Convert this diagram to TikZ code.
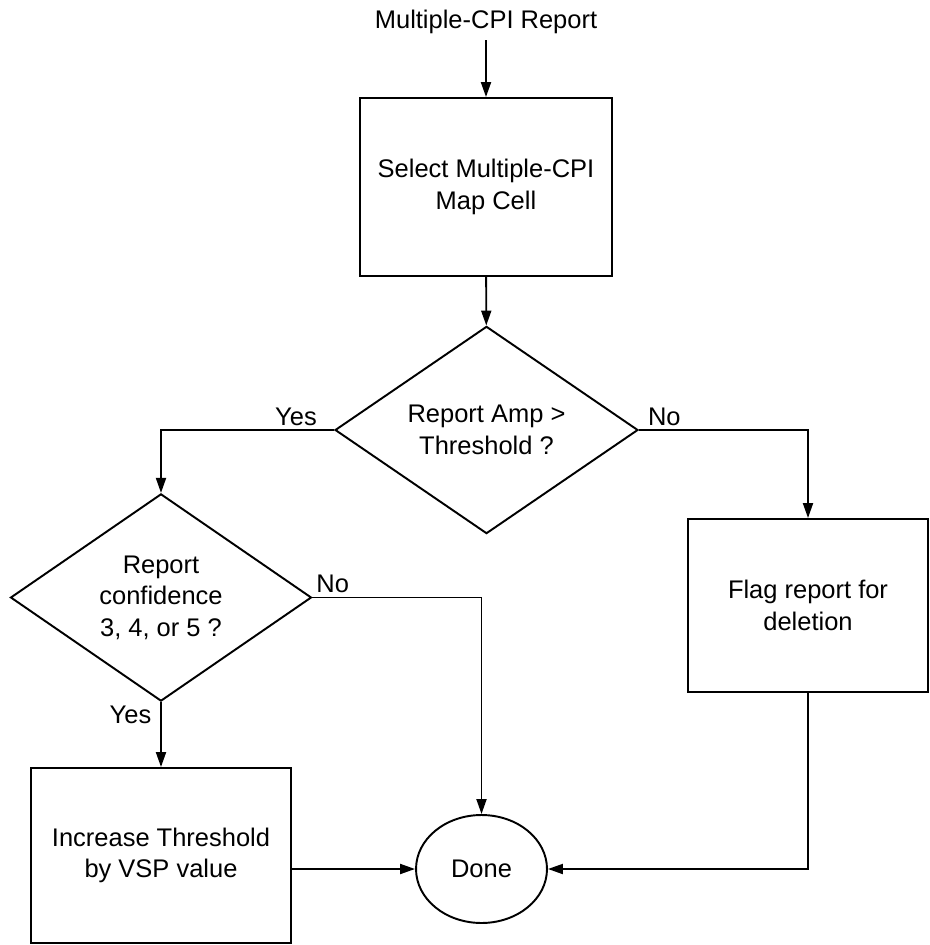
\documentclass[tikz,border=0pt]{standalone}
\usepackage{fontspec}
\setmainfont{Liberation Sans}
\usetikzlibrary{positioning,arrows.meta,shapes.geometric}

\tikzset{
  flow/.style={line width=1.1pt, -{Triangle[length=0.3cm, width=0.2cm]}},
  stepbox/.style={draw, line width=1.1pt, rectangle, align=center, inner sep=2pt},
  ask/.style={draw, line width=1.1pt, diamond, align=center, inner sep=0pt},
  stop/.style={draw, line width=1.1pt, ellipse, inner sep=0pt},
  lbl/.style={inner sep=2pt}
}

\begin{document}
\begin{tikzpicture}[x=0.02cm, y=-0.02cm, font=\fontsize{14.5pt}{18pt}\selectfont]
%
    \useasboundingbox (0,0) rectangle (929,945);
%
    \node (report) at (486, 22) {Multiple-CPI Report};
    \node[stepbox, minimum width=5.04cm, minimum height=3.56cm] (select) at (486, 187)
        {Select Multiple-CPI\\Map Cell};
    \node[ask, minimum width=6.06cm, minimum height=3.54cm] (ampq) at (486.5, 430)
        {Report Amp >\\Threshold ?};
    \node[ask, minimum width=6.02cm, minimum height=3.42cm] (confq) at (161, 597.5)
        {Report\\confidence\\3, 4, or 5 ?};
    \node[stepbox, minimum width=4.8cm, minimum height=3.46cm] (flag) at (808, 605.5)
        {Flag report for\\deletion};
    \node[stepbox, minimum width=5.2cm, minimum height=3.5cm] (incr) at (161, 855.5)
        {Increase Threshold\\by VSP value};
    \node[stop, minimum width=2.62cm, minimum height=2.16cm] (done) at (481.5, 869) {Done};
%
    \draw[flow] (report) -- (select);
    \draw[flow] (select) -- (ampq);
%
    \draw[flow] (ampq.west) -- node[lbl, above, pos=0.22] {Yes} (ampq.west -| confq.north) -- (confq.north);
    \draw[flow] (ampq.east) -- node[lbl, above, pos=0.15] {No} (ampq.east -| flag.north) -- (flag.north);
%
    \draw[flow] (confq.east) -- node[lbl, above, pos=0.12] {No} (confq.east -| done.north) -- (done.north);
    \draw[flow] (confq.south) -- node[lbl, left, pos=0.2, xshift=-3pt] {Yes} (incr.north);
%
    \draw[flow] (done.west -| incr.east) -- (done.west);
    \draw[flow] (flag.south) |- (done.east);
  \end{tikzpicture}
\end{document}
